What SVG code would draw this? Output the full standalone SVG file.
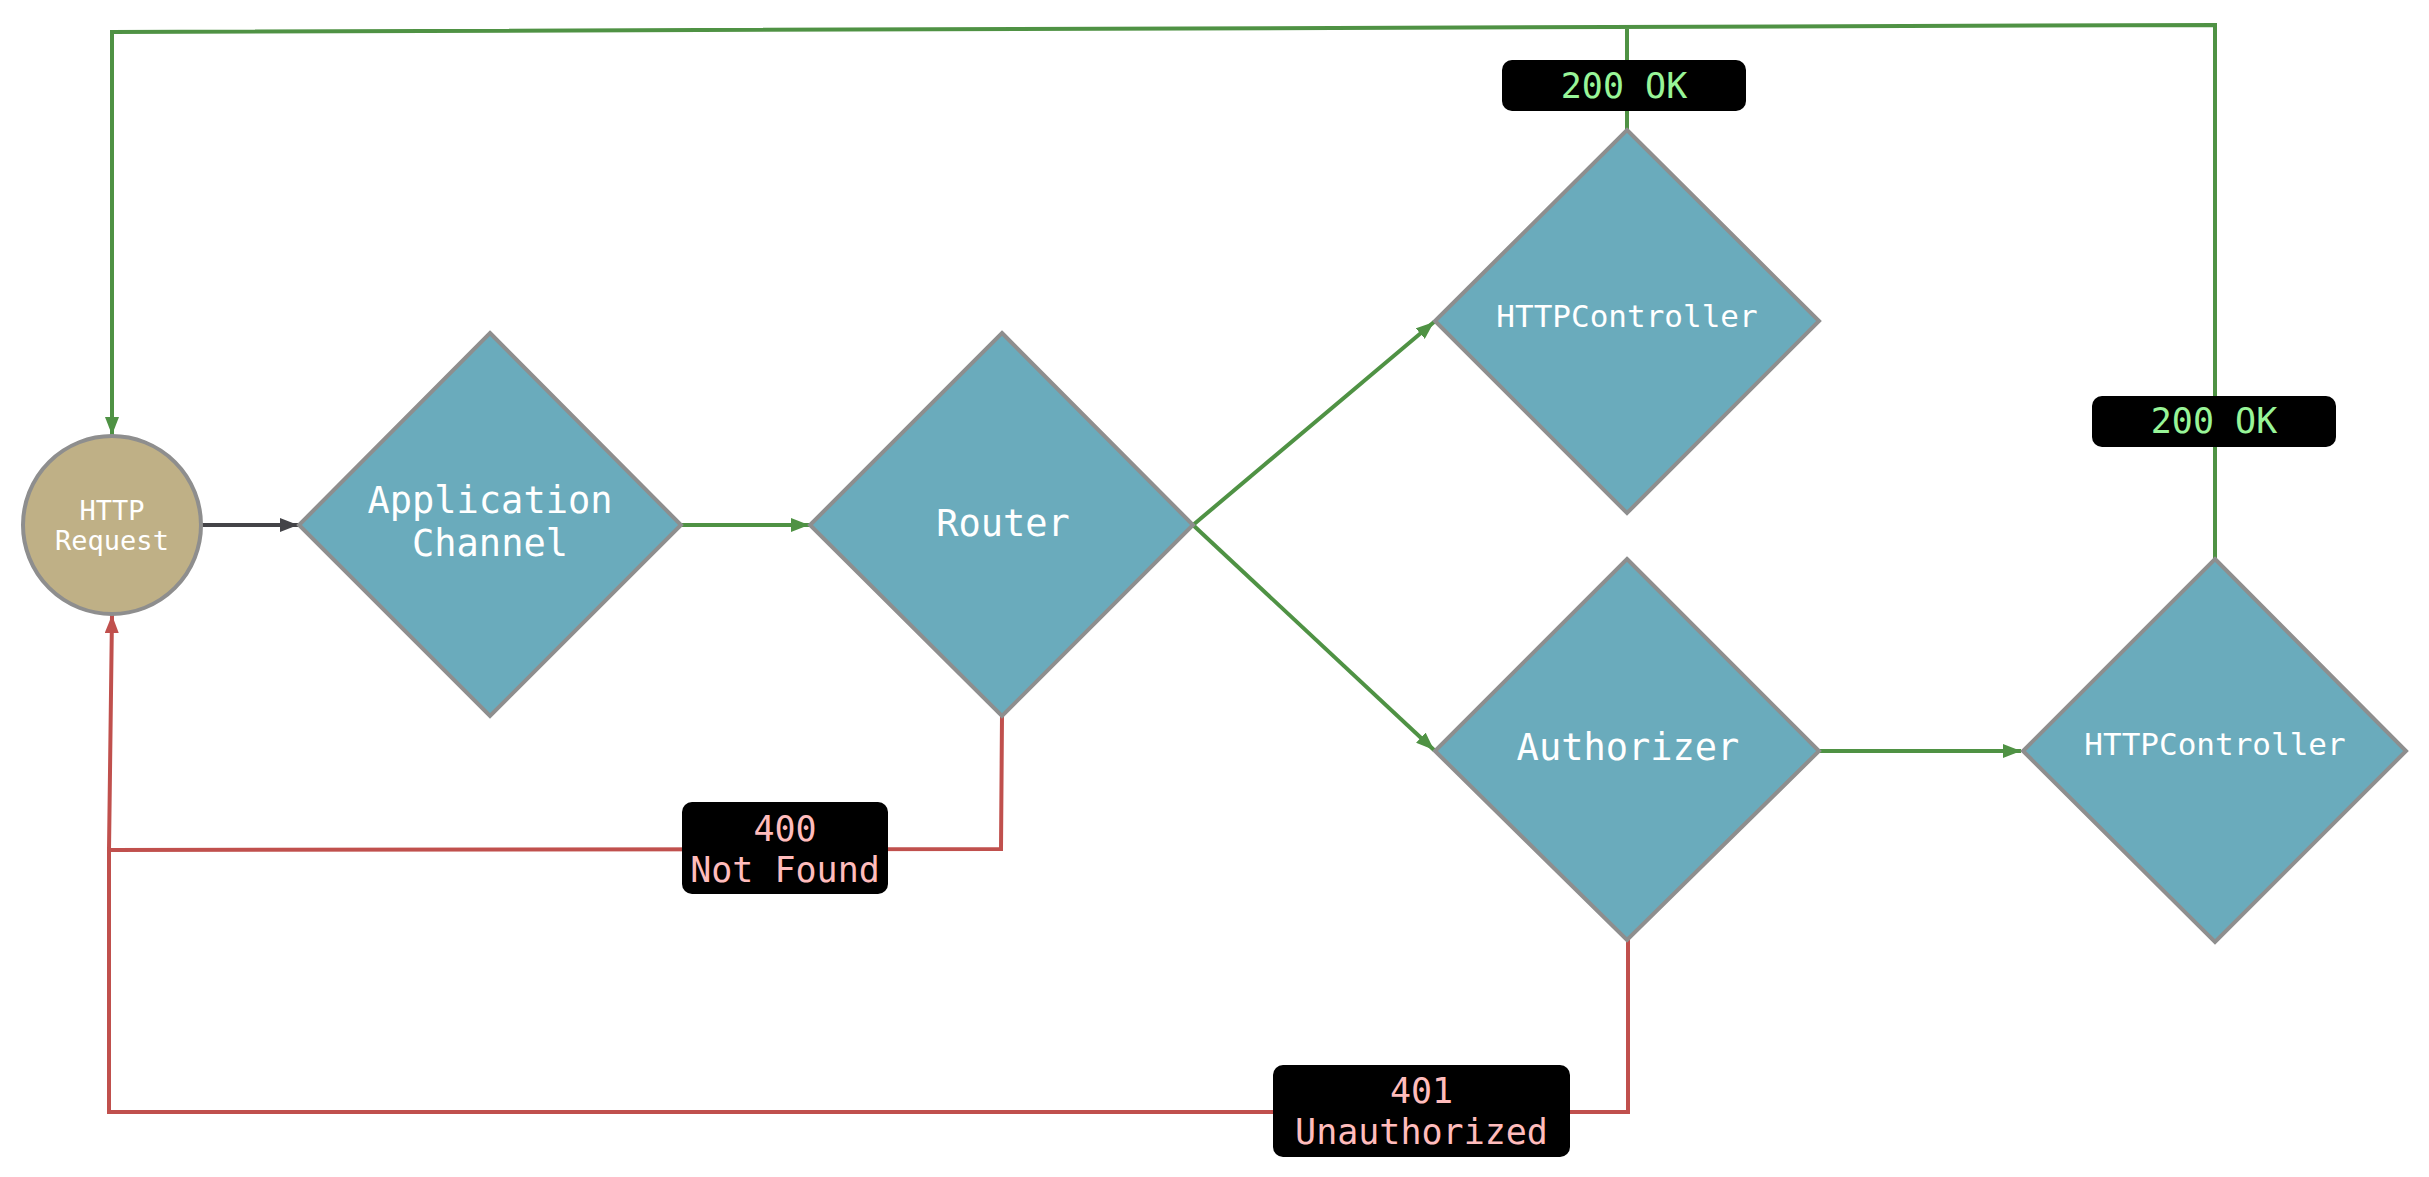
<svg xmlns="http://www.w3.org/2000/svg" width="2429" height="1177" viewBox="0 0 2429 1177">
<style>
.dia{fill:#6aabbc;stroke:#8e8e8e;stroke-width:4;stroke-linejoin:miter}
.circ{fill:#bfb086;stroke:#8e8e8e;stroke-width:4}
.t{font-family:"DejaVu Sans Mono","Liberation Mono",monospace;fill:#ffffff;text-anchor:middle}
.g{fill:none;stroke:#4f9244;stroke-width:4}
.r{fill:none;stroke:#c0504d;stroke-width:4}
.k{fill:none;stroke:#444448;stroke-width:4}
.lb{fill:#000000}
.lg{font-family:"DejaVu Sans Mono","Liberation Mono",monospace;fill:#98f598;text-anchor:middle;font-size:35px}
.lr{font-family:"DejaVu Sans Mono","Liberation Mono",monospace;fill:#ffbcbc;text-anchor:middle;font-size:35px}
</style>
<defs>
<marker id="ag" markerUnits="userSpaceOnUse" markerWidth="20" markerHeight="14" refX="18" refY="7" orient="auto"><path d="M0,0 L18,7 L0,14 z" fill="#4f9244"/></marker>
<marker id="ar" markerUnits="userSpaceOnUse" markerWidth="20" markerHeight="14" refX="18" refY="7" orient="auto"><path d="M0,0 L18,7 L0,14 z" fill="#c0504d"/></marker>
<marker id="ak" markerUnits="userSpaceOnUse" markerWidth="20" markerHeight="14" refX="18" refY="7" orient="auto"><path d="M0,0 L18,7 L0,14 z" fill="#444448"/></marker>
</defs>
<g id="connectors">
<path class="k" d="M201,525 L298,525" marker-end="url(#ak)"/>
<path class="g" d="M681,525 L809,525" marker-end="url(#ag)"/>
<path class="g" d="M1193,525 L1434,322" marker-end="url(#ag)"/>
<path class="g" d="M1193,525 L1434,750" marker-end="url(#ag)"/>
<path class="g" d="M1819,751 L2021,751" marker-end="url(#ag)"/>
<path class="g" d="M1627,130 L1627,29"/>
<path class="g" d="M2215,559 L2215,25 L112,32 L112,435" marker-end="url(#ag)"/>
<path class="r" d="M1002,716 L1001,849 L109,850 L112,615" marker-end="url(#ar)"/>
<path class="r" d="M1628,940 L1628,1112 L109,1112 L109,850"/>
<g id="label-200ok-1"><rect class="lb" x="1502" y="60" width="244" height="51" rx="10"/><text class="lg" x="1624" y="98">200 OK</text></g>
<g id="label-200ok-2"><rect class="lb" x="2092" y="396" width="244" height="51" rx="10"/><text class="lg" x="2214" y="433">200 OK</text></g>
<g id="label-400"><rect class="lb" x="682" y="802" width="206" height="92" rx="10"/><text class="lr" x="785" y="841">400</text><text class="lr" x="785" y="882">Not Found</text></g>
<g id="label-401"><rect class="lb" x="1273" y="1065" width="297" height="92" rx="10"/><text class="lr" x="1421.5" y="1103">401</text><text class="lr" x="1421.5" y="1144">Unauthorized</text></g>
</g>
<g id="http-request">
<circle class="circ" cx="112" cy="525" r="89"/>
<text class="t" x="112" y="520" font-size="27">HTTP</text>
<text class="t" x="112" y="550" font-size="27">Request</text>
</g>
<g id="application-channel">
<polygon class="dia" points="490,333 681,525 490,716 299,525"/>
<text class="t" x="490" y="513" font-size="37">Application</text>
<text class="t" x="490" y="556" font-size="37">Channel</text>
</g>
<g id="router">
<polygon class="dia" points="1002,333 1193,525 1002,716 810,525"/>
<text class="t" x="1003" y="536" font-size="37">Router</text>
</g>
<g id="httpcontroller-1">
<polygon class="dia" points="1627,130 1819,321 1627,513 1435,321"/>
<text class="t" x="1627" y="327" font-size="31">HTTPController</text>
</g>
<g id="authorizer">
<polygon class="dia" points="1627,559 1819,751 1627,940 1435,751"/>
<text class="t" x="1628" y="760" font-size="37">Authorizer</text>
</g>
<g id="httpcontroller-2">
<polygon class="dia" points="2215,559 2406,751 2215,942 2023,751"/>
<text class="t" x="2215" y="755" font-size="31">HTTPController</text>
</g>
</svg>
